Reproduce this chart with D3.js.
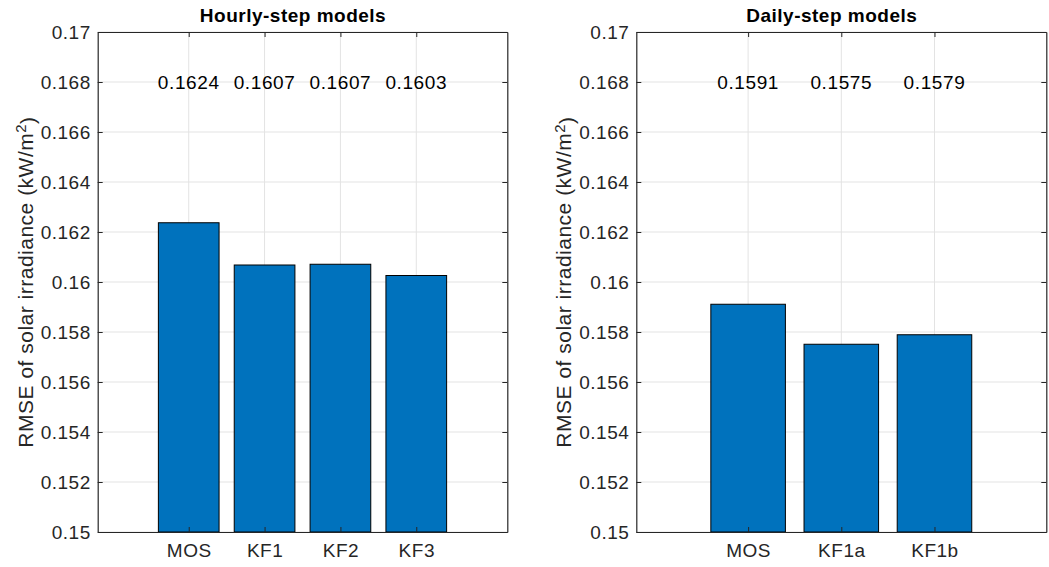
<!DOCTYPE html>
<html>
<head>
<meta charset="utf-8">
<script src="https://cdn.jsdelivr.net/npm/d3@7"></script>
<style>
  html, body { margin: 0; padding: 0; background: #fff; }
  svg { display: block; font-family: "Liberation Sans", Arial, Helvetica, sans-serif; }
</style>
</head>
<body>
<svg id="chart" width="1049" height="567"></svg>
<script>
// RMSE of forecast solar irradiance (kW/m^2) per model
const hourlyCategories = ["MOS", "KF1", "KF2", "KF3"];
const hourlyValues = [0.16237, 0.16068, 0.16071, 0.16026];

const dailyCategories = ["MOS", "KF1a", "KF1b"];
const dailyValues = [0.15911, 0.15751, 0.15789];

const yTicks = [0.15, 0.152, 0.154, 0.156, 0.158, 0.16, 0.162, 0.164, 0.166, 0.168, 0.17];
const yDomain = [0.15, 0.17];
const labelLevel = 0.168;

const titles = ["Hourly-step models", "Daily-step models"];

const svg = d3.select("#chart");
const AXIS = "#262626";
const GRID = "#e3e3e3";
const BAR = "#0072bd";
const FS = 19;
const LS = "0.5px";

const plotTop = 32, plotBottom = 532;
const panels = [
  { x0: 97.7, x1: 507.3, cats: hourlyCategories, vals: hourlyValues, title: titles[0] },
  { x0: 636.3, x1: 1046.3, cats: dailyCategories, vals: dailyValues, title: titles[1] }
];

panels.forEach(p => {
  const n = p.cats.length;
  const idx = d3.range(1, n + 1);
  const x = d3.scaleLinear().domain([-0.2, n + 1.2]).range([p.x0, p.x1]);
  const y = d3.scaleLinear().domain(yDomain).range([plotBottom, plotTop]);
  const barW = x(0.8) - x(0);

  const g = svg.append("g");

  // grid
  g.append("g").selectAll("line").data(yTicks).join("line")
    .attr("x1", p.x0).attr("x2", p.x1)
    .attr("y1", d => y(d)).attr("y2", d => y(d))
    .attr("stroke", GRID).attr("stroke-width", 1);
  g.append("g").selectAll("line").data(idx).join("line")
    .attr("y1", plotTop).attr("y2", plotBottom)
    .attr("x1", d => x(d)).attr("x2", d => x(d))
    .attr("stroke", GRID).attr("stroke-width", 1);

  // bars
  g.append("g").selectAll("rect").data(p.vals).join("rect")
    .attr("x", (d, i) => x(i + 1) - barW / 2)
    .attr("width", barW)
    .attr("y", d => y(d))
    .attr("height", d => y(yDomain[0]) - y(d))
    .attr("fill", BAR)
    .attr("stroke", "#000").attr("stroke-width", 1);

  // value labels
  g.append("g").selectAll("text").data(p.vals).join("text")
    .attr("x", (d, i) => x(i + 1))
    .attr("y", y(labelLevel))
    .attr("dy", "0.36em")
    .attr("text-anchor", "middle")
    .attr("font-size", FS).attr("letter-spacing", "0.6px")
    .attr("fill", "#000")
    .text(d => d.toFixed(4));

  const styleAxis = sel => {
    sel.attr("font-family", null);
    sel.select(".domain").attr("stroke", AXIS).attr("stroke-width", 1.2);
    sel.selectAll(".tick line").attr("stroke", AXIS).attr("stroke-width", 1);
    sel.selectAll(".tick text").attr("fill", AXIS).attr("font-size", FS)
      .attr("letter-spacing", LS);
  };

  // left axis
  g.append("g").attr("transform", `translate(${p.x0},0)`)
    .call(d3.axisLeft(y).tickValues(yTicks).tickFormat(d3.format("~g"))
      .tickSizeInner(-5).tickSizeOuter(0).tickPadding(7))
    .call(styleAxis);
  // right axis (box)
  g.append("g").attr("transform", `translate(${p.x1},0)`)
    .call(d3.axisRight(y).tickValues(yTicks).tickFormat("")
      .tickSizeInner(-5).tickSizeOuter(0))
    .call(styleAxis);
  // bottom axis
  g.append("g").attr("transform", `translate(0,${plotBottom})`)
    .call(d3.axisBottom(x).tickValues(idx).tickFormat(d => p.cats[d - 1])
      .tickSizeInner(-5).tickSizeOuter(0).tickPadding(12))
    .call(styleAxis);
  // top axis (box)
  g.append("g").attr("transform", `translate(0,${plotTop})`)
    .call(d3.axisTop(x).tickValues(idx).tickFormat("")
      .tickSizeInner(-5).tickSizeOuter(0))
    .call(styleAxis);

  // title
  g.append("text")
    .attr("x", (p.x0 + p.x1) / 2 - 9.5).attr("y", 22)
    .attr("text-anchor", "middle")
    .attr("font-size", FS).attr("font-weight", "bold").attr("letter-spacing", LS)
    .attr("fill", "#000")
    .text(p.title);

  // y-axis label
  const lab = g.append("text")
    .attr("transform", `translate(${p.x0 - 65},${(plotTop + plotBottom) / 2}) rotate(-90)`)
    .attr("text-anchor", "middle")
    .attr("font-size", 21).attr("letter-spacing", LS)
    .attr("fill", AXIS);
  lab.append("tspan").text("RMSE of solar irradiance (kW/m");
  lab.append("tspan").attr("dy", "-0.45em").attr("font-size", 15).text("2");
  lab.append("tspan").attr("dy", "0.45em").text(")");
});
</script>
</body>
</html>
